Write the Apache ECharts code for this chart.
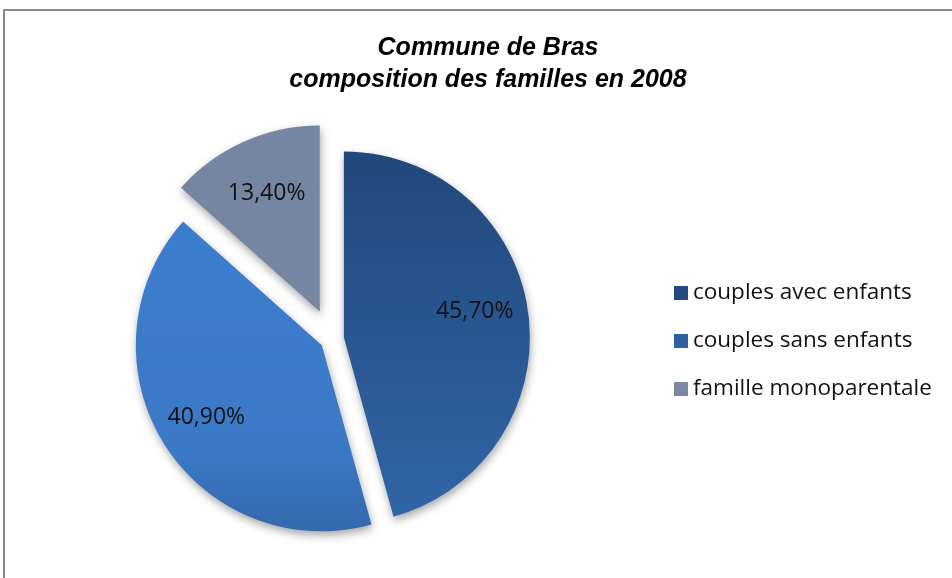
<!DOCTYPE html>
<html>
<head>
<meta charset="utf-8">
<script src="https://cdn.jsdelivr.net/npm/echarts@6/dist/echarts.min.js"></script>
<style>
  html, body { margin: 0; padding: 0; background: #fff; }
  #chart { width: 952px; height: 578px; }
</style>
</head>
<body>
<div id="chart"></div>
<script>
    // composition des familles, Bras 2008
    const categories = ['couples avec enfants', 'couples sans enfants', 'famille monoparentale'];
    const values = [45.7, 40.9, 13.4];
    const legendColors = ['#234B7F', '#2E5F9E', '#7A88A6'];

    const sliceFills = [
        new echarts.graphic.LinearGradient(0, 0, 0, 1, [
            {offset: 0, color: '#21487B'},
            {offset: 1, color: '#3065A7'}
        ]),
        new echarts.graphic.LinearGradient(0, 0, 0, 1, [
            {offset: 0, color: '#3C7ECE'},
            {offset: 0.75, color: '#3A79C6'},
            {offset: 1, color: '#3469AD'}
        ]),
        '#7586A3'
    ];

    const total = values.reduce((a, b) => a + b, 0);
    const radius = 186;

    // label push outward (in px) per slice, along the slice's mid angle
    const labelPush = [36, 40, 34];
    function midAngle(i) {
        let before = 0;
        for (let k = 0; k < i; k++) before += values[k];
        return (90 - 360 * (before + values[i] / 2) / total) * Math.PI / 180;
    }

    function fmt(v) {
        return v.toFixed(2).replace('.', ',') + '%';
    }

    // visible: which slice indexes this series actually paints
    function buildData(visible) {
        return categories.map((name, i) => {
            const show = visible.indexOf(i) >= 0;
            return {
                name: name,
                value: values[i],
                selected: true,
                itemStyle: show ? {
                    color: sliceFills[i],
                    shadowBlur: 8,
                    shadowOffsetX: 1,
                    shadowOffsetY: 4,
                    shadowColor: 'rgba(0,0,0,0.35)'
                } : {color: 'rgba(0,0,0,0)'},
                label: {show: show}
            };
        });
    }

    const labelStyle = {
        position: 'inside',
        formatter: p => fmt(p.value),
        fontFamily: 'Open Sans',
        fontSize: 23,
        color: '#111'
    };

    function pushLabel(p) {
        const a = midAngle(p.dataIndex);
        const k = labelPush[p.dataIndex];
        return {dx: Math.cos(a) * k, dy: -Math.sin(a) * k - (p.dataIndex === 0 ? 8 : 0)};
    }

    const chart = echarts.init(document.getElementById('chart'));

    const option = {
        backgroundColor: '#fff',
        animation: false,
        graphic: [{
            type: 'rect',
            shape: {x: 4, y: 10, width: 1100, height: 1000},
            style: {fill: 'none', stroke: '#8a8a8a', lineWidth: 2},
            silent: true
        }],
        title: {
            text: 'Commune de Bras\ncomposition des familles en 2008',
            left: 483,
            top: 27,
            textAlign: 'center',
            textStyle: {
                fontFamily: 'Liberation Sans',
                fontSize: 25,
                fontWeight: 'bold',
                fontStyle: 'italic',
                color: '#000',
                lineHeight: 32
            }
        },
        legend: {
            orient: 'vertical',
            left: 669,
            top: 276,
            icon: 'rect',
            itemWidth: 14,
            itemHeight: 14,
            itemGap: 24,
            selectedMode: false,
            textStyle: {
                fontFamily: 'Open Sans',
                fontSize: 22.5,
                lineHeight: 24,
                color: '#111',
                padding: [0, 0, 0, 0]
            },
            data: categories.map((name, i) => ({
                name: name,
                itemStyle: {color: legendColors[i]}
            }))
        },
        series: [{
            name: 'familles',
            type: 'pie',
            center: [332, 339],
            radius: radius,
            startAngle: 90,
            selectedMode: 'multiple',
            selectedOffset: 12,
            silent: true,
            label: labelStyle,
            labelLine: {show: false},
            labelLayout: pushLabel,
            data: buildData([0, 1])
        }, {
            name: 'familles',
            type: 'pie',
            center: [332, 339],
            radius: radius,
            startAngle: 90,
            selectedMode: 'multiple',
            selectedOffset: 30,
            silent: true,
            label: labelStyle,
            labelLine: {show: false},
            labelLayout: pushLabel,
            data: buildData([2])
        }]
    };

    chart.setOption(option);
</script>
</body>
</html>
